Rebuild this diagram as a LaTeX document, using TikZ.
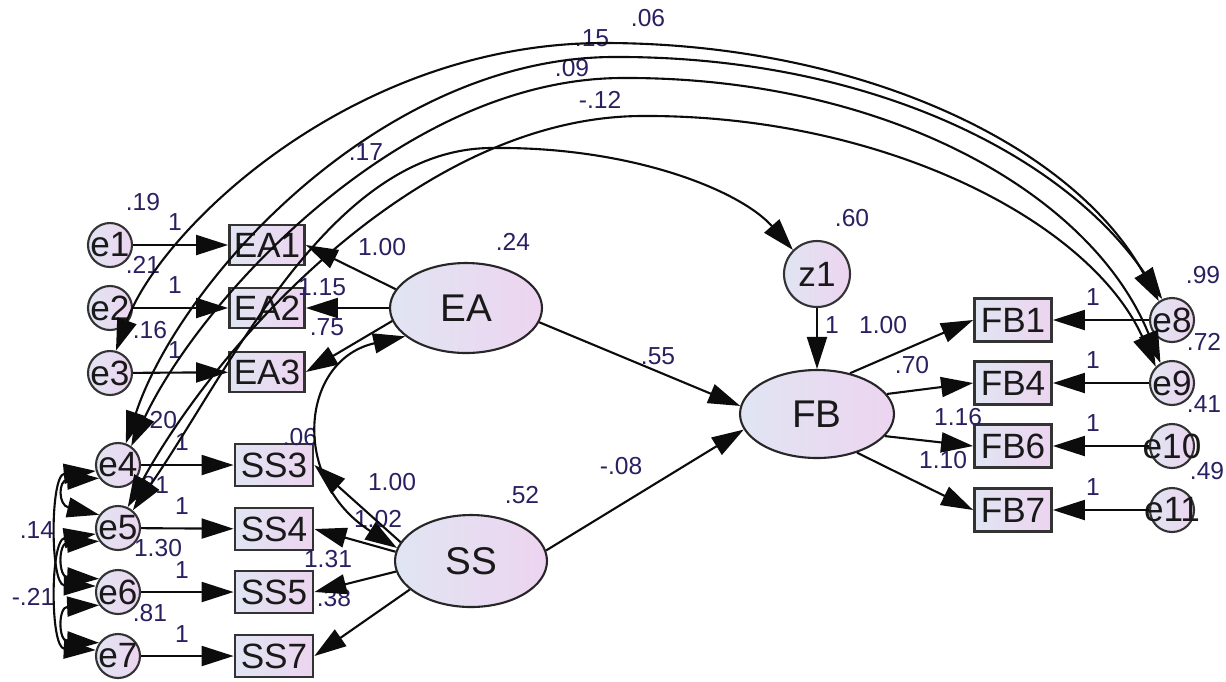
\documentclass[tikz,border=0pt]{standalone}
\usepackage{fontspec}
\setmainfont{Liberation Sans}
\usetikzlibrary{shapes.geometric,arrows.meta}
\definecolor{nodeL}{RGB}{224,229,242}
\definecolor{nodeR}{RGB}{237,212,240}
\definecolor{lblc}{RGB}{40,32,96}
\definecolor{edgec}{RGB}{12,12,12}
\newcommand{\ctext}[1]{\makebox[0pt][c]{#1}}
\begin{document}
\begin{tikzpicture}[x=0.02cm,y=-0.02cm,
  obs/.style={rectangle,draw=black!80,line width=1.6pt,left color=nodeL,right color=nodeR,minimum width=1.5cm,minimum height=0.8cm,inner sep=0pt,font=\fontsize{20}{20}\selectfont,text=black!90},
  err/.style={circle,draw=black!80,line width=1.2pt,left color=nodeL,right color=nodeR,minimum size=0.88cm,inner sep=0pt,font=\fontsize{20}{20}\selectfont,text=black!90},
  lat/.style={ellipse,draw=black!85,line width=1.2pt,left color=nodeL,right color=nodeR,minimum width=3.04cm,minimum height=1.8cm,inner sep=0pt,font=\fontsize{22}{22}\selectfont,text=black!90},
  lbl/.style={font=\fontsize{14}{14}\selectfont,text=lblc,inner sep=0pt},
  reg/.style={draw=edgec,line width=1.2pt,-{Triangle[length=0.64cm,width=0.4cm]}},
  cov/.style={draw=edgec,line width=1.2pt,{Triangle[length=0.64cm,width=0.4cm]}-{Triangle[length=0.64cm,width=0.4cm]}},
]
\useasboundingbox (0,0) rectangle (1226,681);
% ---------------- nodes
\node[err] (e1) at (110,245) {\ctext{e1}};
\node[err] (e2) at (110,308) {\ctext{e2}};
\node[err] (e3) at (110,373) {\ctext{e3}};
\node[err] (e4) at (118,465) {\ctext{e4}};
\node[err] (e5) at (118,528) {\ctext{e5}};
\node[err] (e6) at (118,592) {\ctext{e6}};
\node[err] (e7) at (118,656) {\ctext{e7}};
\node[obs] (EA1) at (267,245) {EA1};
\node[obs] (EA2) at (267,308) {EA2};
\node[obs] (EA3) at (267,372) {EA3};
\node[obs,minimum width=1.56cm,minimum height=0.84cm] (SS3) at (274,465) {SS3};
\node[obs,minimum width=1.56cm,minimum height=0.84cm] (SS4) at (274,529) {SS4};
\node[obs,minimum width=1.56cm,minimum height=0.84cm] (SS5) at (274,592) {SS5};
\node[obs,minimum width=1.56cm,minimum height=0.84cm] (SS7) at (274,656) {SS7};
\node[lat] (EA) at (466,308) {EA};
\node[lat,minimum height=1.84cm] (SS) at (471,561) {SS};
\node[lat,minimum width=3.08cm,minimum height=1.76cm] (FB) at (817,414) {FB};
\node[err,minimum size=1.32cm] (z1) at (817,274) {\ctext{z1}};
\node[obs,minimum width=1.54cm,minimum height=0.86cm] (FB1) at (1013,320) {FB1};
\node[obs,minimum width=1.54cm,minimum height=0.86cm] (FB4) at (1013,383) {FB4};
\node[obs,minimum width=1.54cm,minimum height=0.86cm] (FB6) at (1013,446) {FB6};
\node[obs,minimum width=1.54cm,minimum height=0.86cm] (FB7) at (1013,510) {FB7};
\node[err] (e8) at (1172,320) {\ctext{e8}};
\node[err] (e9) at (1172,383) {\ctext{e9}};
\node[err] (e10) at (1172,446) {\ctext{e10}};
\node[err] (e11) at (1172,510) {\ctext{e11}};
% ---------------- labels
\node[lbl] (l1) at (143,202) {.19};
\node[lbl] (l2) at (175,222) {1};
\node[lbl] (l3) at (143,265) {.21};
\node[lbl] (l4) at (175,285) {1};
\node[lbl] (l5) at (150,330) {.16};
\node[lbl] (l6) at (175,350) {1};
\node[lbl] (l7) at (160,420) {.20};
\node[lbl] (l8) at (182,442) {1};
\node[lbl] (l9) at (152,485) {.81};
\node[lbl] (l10) at (182,506) {1};
\node[lbl] (l11) at (158,548) {1.30};
\node[lbl] (l12) at (182,570) {1};
\node[lbl] (l13) at (150,613) {.81};
\node[lbl] (l14) at (182,634) {1};
\node[lbl] (l15) at (37,530) {.14};
\node[lbl] (l16) at (33,597) {-.21};
\node[lbl] (l17) at (513,242) {.24};
\node[lbl] (l18) at (382,247) {1.00};
\node[lbl] (l19) at (322,287) {1.15};
\node[lbl] (l20) at (327,327) {.75};
\node[lbl] (l21) at (300,437) {.06};
\node[lbl] (l22) at (522,495) {.52};
\node[lbl] (l23) at (392,482) {1.00};
\node[lbl] (l24) at (378,519) {1.02};
\node[lbl] (l25) at (328,559) {1.31};
\node[lbl] (l26) at (334,598) {.38};
\node[lbl] (l27) at (658,356) {.55};
\node[lbl] (l28) at (621,466) {-.08};
\node[lbl] (l29) at (852,218) {.60};
\node[lbl] (l30) at (832,325) {1};
\node[lbl] (l31) at (883,325) {1.00};
\node[lbl] (l32) at (912,365) {.70};
\node[lbl] (l33) at (958,417) {1.16};
\node[lbl] (l34) at (943,460) {1.10};
\node[lbl] (l35) at (1093,297) {1};
\node[lbl] (l36) at (1093,360) {1};
\node[lbl] (l37) at (1093,423) {1};
\node[lbl] (l38) at (1093,487) {1};
\node[lbl] (l39) at (1203,275) {.99};
\node[lbl] (l40) at (1204,342) {.72};
\node[lbl] (l41) at (1204,404) {.41};
\node[lbl] (l42) at (1207,471) {.49};
\node[lbl] (l43) at (648,18) {.06};
\node[lbl] (l44) at (592,38) {.15};
\node[lbl] (l45) at (572,68) {.09};
\node[lbl] (l46) at (600,100) {-.12};
\node[lbl] (l47) at (366,152) {.17};
% ---------------- regression paths
\draw[reg] (e1) -- (EA1);
\draw[reg] (e2) -- (EA2);
\draw[reg] (e3) -- (EA3);
\draw[reg] (e4) -- (SS3);
\draw[reg] (e5) -- (SS4);
\draw[reg] (e6) -- (SS5);
\draw[reg] (e7) -- (SS7);
\draw[reg] (EA.165) -- (EA1.east);
\draw[reg] (EA.west) -- (EA2.east);
\draw[reg] (EA.190) -- (EA3.east);
\draw[reg] (SS.165) -- (SS3.east);
\draw[reg] (SS.173) -- (SS4.east);
\draw[reg] (SS.188) -- (SS5.east);
\draw[reg] (SS.205) -- (SS7.east);
\draw[reg] (EA.-11) -- (FB.174);
\draw[reg] (SS.8) -- (FB.192);
\draw[reg] (z1) -- (FB);
\draw[reg] (FB.51) -- (FB1.west);
\draw[reg] (FB.16) -- (FB4.west);
\draw[reg] (FB.-18) -- (FB6.west);
\draw[reg] (FB.-44) -- (FB7.west);
\draw[reg] (e8) -- (FB1);
\draw[reg] (e9) -- (FB4);
\draw[reg] (e10) -- (FB6);
\draw[reg] (e11) -- (FB7);
% ---------------- covariances
\coordinate (p1) at (600,43);
\coordinate (p2) at (610,57);
\coordinate (p3) at (620,78);
\coordinate (p4) at (640,116);
\coordinate (p5) at (490,148);
\draw[cov] (e3.75) .. controls (160,230) and (350,45) .. (p1) .. controls (850,42) and (1070,140) .. (e8.125);
\draw[cov] (e4.70) .. controls (180,280) and (380,60) .. (p2) .. controls (860,55) and (1060,150) .. (e8.115);
\draw[cov] (e4.55) .. controls (200,300) and (400,80) .. (p3) .. controls (880,76) and (1090,190) .. (e9.120);
\draw[cov] (e5.65) .. controls (220,340) and (420,118) .. (p4) .. controls (880,114) and (1090,220) .. (e9.135);
\draw[cov] (e5.50) .. controls (230,370) and (330,150) .. (p5) .. controls (630,146) and (740,190) .. (z1.135);
\draw[cov] (EA.205) .. controls (300,360) and (290,480) .. (SS.170);
\draw[cov] (e4.215) .. controls (58,480) and (58,505) .. (e5.145);
\draw[cov] (e4.195) .. controls (50,475) and (50,585) .. (e6.165);
\draw[cov] (e5.215) .. controls (58,543) and (58,577) .. (e6.145);
\draw[cov] (e5.195) .. controls (50,540) and (50,648) .. (e7.165);
\draw[cov] (e6.215) .. controls (58,607) and (58,641) .. (e7.145);
\end{tikzpicture}
\end{document}
